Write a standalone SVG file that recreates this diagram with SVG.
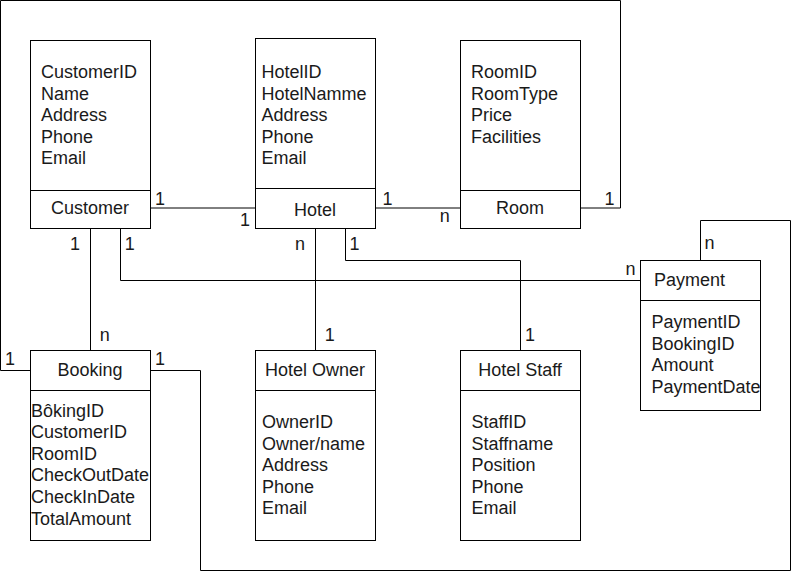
<svg xmlns="http://www.w3.org/2000/svg" width="792" height="572" viewBox="0 0 792 572">
<style>
.box{fill:#fff;stroke:#000;stroke-width:1}
.ln{fill:none;stroke:#000;stroke-width:1}
text{font-family:"Liberation Sans",Arial,sans-serif;font-size:18px;fill:#1a1a1a}
.c{text-anchor:middle}
</style>
<rect width="792" height="572" fill="#fff"/>
<g id="connectors">
<polyline class="ln" points="150,208 255,208"/>
<polyline class="ln" points="375,208 460,208"/>
<polyline class="ln" points="580,208 620.5,208 620.5,0.5 0.5,0.5 0.5,370.5 30,370.5"/>
<polyline class="ln" points="90.5,228 90.5,350"/>
<polyline class="ln" points="120.5,228 120.5,280.5 640,280.5"/>
<polyline class="ln" points="315.5,228 315.5,350"/>
<polyline class="ln" points="345.5,228 345.5,260.5 520.5,260.5 520.5,350"/>
<polyline class="ln" points="700.5,260 700.5,220.5 790.5,220.5 790.5,570.5 200.5,570.5 200.5,370.5 150,370.5"/>
<text x="160" y="205" class="c">1</text>
<text x="245" y="226" class="c">1</text>
<text x="387.5" y="205" class="c">1</text>
<text x="444.7" y="222" class="c">n</text>
<text x="609.5" y="205" class="c">1</text>
<text x="75" y="250" class="c">1</text>
<text x="129.7" y="250" class="c">1</text>
<text x="300" y="250" class="c">n</text>
<text x="354.5" y="250" class="c">1</text>
<text x="709.5" y="249" class="c">n</text>
<text x="630.5" y="275" class="c">n</text>
<text x="104.8" y="341" class="c">n</text>
<text x="10" y="365" class="c">1</text>
<text x="160" y="365" class="c">1</text>
<text x="329.7" y="341" class="c">1</text>
<text x="530" y="341" class="c">1</text>
</g>
<g id="customer">
<rect class="box" x="30.5" y="40.5" width="120" height="188"/>
<line class="ln" x1="30.5" y1="190.5" x2="150.5" y2="190.5"/>
<text x="41" y="78">CustomerID</text>
<text x="41" y="99.5">Name</text>
<text x="41" y="121">Address</text>
<text x="41" y="142.5">Phone</text>
<text x="41" y="164">Email</text>
<text x="90" y="214" class="c">Customer</text>
</g>
<g id="hotel">
<rect class="box" x="255.5" y="38.5" width="120" height="190"/>
<line class="ln" x1="255.5" y1="188.5" x2="375.5" y2="188.5"/>
<text x="261.5" y="78">HotelID</text>
<text x="261.5" y="99.5">HotelNamme</text>
<text x="261.5" y="121">Address</text>
<text x="261.5" y="142.5">Phone</text>
<text x="261.5" y="164">Email</text>
<text x="315" y="216" class="c">Hotel</text>
</g>
<g id="room">
<rect class="box" x="460.5" y="40.5" width="120" height="188"/>
<line class="ln" x1="460.5" y1="190.5" x2="580.5" y2="190.5"/>
<text x="471" y="78">RoomID</text>
<text x="471" y="99.5">RoomType</text>
<text x="471" y="121">Price</text>
<text x="471" y="142.5">Facilities</text>
<text x="520" y="214" class="c">Room</text>
</g>
<g id="booking">
<rect class="box" x="30.5" y="350.5" width="120" height="190"/>
<line class="ln" x1="30.5" y1="390.5" x2="150.5" y2="390.5"/>
<text x="90" y="376" class="c">Booking</text>
<text x="31" y="416.5">BôkingID</text>
<text x="31" y="438.1">CustomerID</text>
<text x="31" y="459.7">RoomID</text>
<text x="31" y="481.3">CheckOutDate</text>
<text x="31" y="502.9">CheckInDate</text>
<text x="31" y="524.5">TotalAmount</text>
</g>
<g id="hotel-owner">
<rect class="box" x="255.5" y="350.5" width="120" height="190"/>
<line class="ln" x1="255.5" y1="390.5" x2="375.5" y2="390.5"/>
<text x="315" y="376" class="c">Hotel Owner</text>
<text x="262" y="428">OwnerID</text>
<text x="262" y="449.5">Owner/name</text>
<text x="262" y="471">Address</text>
<text x="262" y="492.5">Phone</text>
<text x="262" y="514">Email</text>
</g>
<g id="hotel-staff">
<rect class="box" x="460.5" y="350.5" width="120" height="190"/>
<line class="ln" x1="460.5" y1="390.5" x2="580.5" y2="390.5"/>
<text x="520" y="376" class="c">Hotel Staff</text>
<text x="471.5" y="428">StaffID</text>
<text x="471.5" y="449.5">Staffname</text>
<text x="471.5" y="471">Position</text>
<text x="471.5" y="492.5">Phone</text>
<text x="471.5" y="514">Email</text>
</g>
<g id="payment">
<rect class="box" x="640.5" y="260.5" width="120" height="150"/>
<line class="ln" x1="640.5" y1="300.5" x2="760.5" y2="300.5"/>
<text x="654" y="286">Payment</text>
<text x="651.5" y="328">PaymentID</text>
<text x="651.5" y="349.5">BookingID</text>
<text x="651.5" y="371">Amount</text>
<text x="651.5" y="392.5">PaymentDate</text>
</g>
</svg>
